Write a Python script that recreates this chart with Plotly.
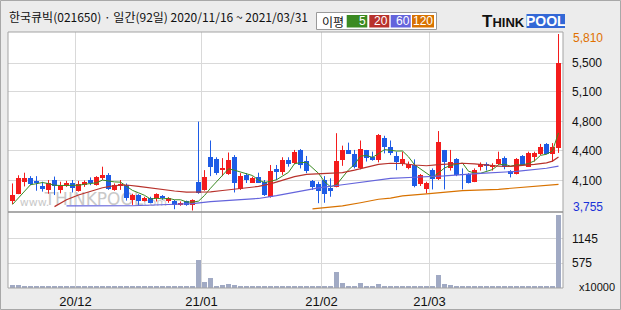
import plotly.graph_objects as go

# ---------------- data ----------------
open_ = [3860, 3950, 4090, 4130, 4100, 4040, 3995, 4110, 3995, 4045,
         4080, 3985, 4050, 4110, 4050, 4130, 4170, 3995, 4035, 4050,
         3880, 3930, 3870, 3905, 3895, 3925, 3860, 3865, 3820, 3860,
         3820, 4090, 3995, 4380, 4350, 4235, 4180, 4380, 4000, 4170,
         4080, 4140, 4090, 3915, 4240, 4205, 4345, 4305, 4460, 4330,
         4100, 4065, 4110, 4020, 4030, 4345, 4460, 4415, 4245, 4460,
         4380, 4345, 4595, 4500, 4390, 4295, 4245, 4285, 4065, 4000,
         4225, 4120, 4460, 4245, 4350, 4180, 4180, 4090, 4265, 4295,
         4265, 4295, 4365, 4210, 4180, 4390, 4265, 4380, 4410, 4530,
         4415, 4480]
high = [4070, 4165, 4195, 4155, 4155, 4090, 4110, 4150, 4090, 4100,
        4110, 4100, 4105, 4140, 4155, 4265, 4190, 4070, 4110, 4070,
        3950, 3945, 3915, 3915, 3955, 3935, 3910, 3880, 3860, 3870,
        3885, 4790, 4225, 4570, 4375, 4365, 4430, 4400, 4190, 4190,
        4150, 4195, 4110, 4285, 4285, 4375, 4375, 4460, 4470, 4390,
        4110, 4090, 4155, 4130, 4655, 4510, 4545, 4460, 4570, 4460,
        4440, 4645, 4625, 4570, 4440, 4440, 4325, 4350, 4180, 4090,
        4245, 4680, 4460, 4460, 4365, 4245, 4190, 4245, 4315, 4315,
        4305, 4440, 4385, 4225, 4365, 4400, 4440, 4440, 4530, 4540,
        4540, 5810]
low = [3830, 3945, 4035, 4050, 3985, 3975, 3950, 3935, 3955, 4030,
       3965, 3975, 4030, 4050, 4045, 4110, 3995, 3985, 3995, 3870,
       3820, 3820, 3860, 3840, 3860, 3880, 3845, 3770, 3810, 3810,
       3755, 3950, 3985, 4155, 4170, 4155, 4170, 3965, 3995, 4075,
       4075, 4075, 3925, 3905, 4110, 4170, 4265, 4295, 4245, 4190,
       3995, 3840, 3845, 3915, 4025, 4275, 4420, 4245, 4235, 4325,
       4335, 4315, 4420, 4400, 4225, 4275, 4235, 4025, 4040, 3955,
       4000, 4110, 4000, 4220, 4155, 4000, 4070, 4085, 4220, 4220,
       4220, 4285, 4235, 4140, 4175, 4275, 4265, 4325, 4400, 4410,
       4325, 4425]
close = [3935, 4135, 4130, 4065, 4070, 4005, 4070, 4035, 4050, 4080,
         4015, 4065, 4090, 4080, 4140, 4170, 4000, 4050, 4065, 3895,
         3935, 3860, 3905, 3845, 3945, 3895, 3895, 3820, 3845, 3820,
         3880, 3955, 4150, 4265, 4195, 4245, 4345, 4070, 4155, 4110,
         4130, 4080, 3935, 4215, 4205, 4345, 4295, 4435, 4285, 4210,
         4025, 3985, 3950, 3985, 4330, 4460, 4415, 4265, 4470, 4370,
         4345, 4635, 4500, 4430, 4325, 4350, 4295, 4040, 4170, 4080,
         4120, 4555, 4325, 4315, 4170, 4170, 4080, 4225, 4295, 4275,
         4285, 4350, 4265, 4180, 4350, 4285, 4430, 4420, 4500, 4415,
         4490, 5470]
volume = [60, 60, 30, 30, 30, 30, 30, 30, 30, 30,
          30, 30, 30, 30, 30, 30, 30, 30, 30, 55,
          30, 30, 30, 30, 30, 30, 30, 30, 30, 30,
          30, 660, 150, 243, 55, 81, 104, 81, 55, 30,
          30, 30, 30, 55, 55, 55, 30, 55, 55, 30,
          55, 55, 30, 30, 382, 127, 55, 55, 127, 55,
          55, 104, 55, 55, 55, 30, 30, 55, 30, 55,
          30, 290, 104, 81, 55, 30, 30, 30, 30, 30,
          30, 30, 55, 30, 30, 55, 30, 55, 55, 55,
          55, 1700]  # x10000

ma5_head = [3825, 3905, 3985, 4055]
ma20_idx = [7, 9, 11, 13, 15, 17, 19, 21, 23, 25, 27, 29, 31, 33, 35, 37, 39, 41, 43, 45,
            47, 49, 51, 53, 55, 57, 59, 61, 63, 65, 67, 69, 71, 73, 75, 77, 79, 81, 83, 85,
            87, 89, 90, 91]
ma20_val = [3800, 3880, 3935, 3980, 4020, 4045, 4052, 4035, 4015, 3998, 3982, 3968, 3966, 3972,
            3988, 4005, 4018, 4035, 4065, 4108, 4150, 4175, 4182, 4181, 4196, 4225, 4260, 4292,
            4305, 4302, 4285, 4276, 4288, 4299, 4305, 4298, 4285, 4272, 4268, 4276, 4292, 4310,
            4330, 4378]
ma60_idx = [9, 15, 20, 26, 30, 33, 38, 41, 44, 47, 51, 55, 59, 63, 67, 72, 78, 84, 89, 91]
ma60_val = [3808, 3808, 3810, 3825, 3835, 3858, 3878, 3895, 3928, 3970, 4018, 4055, 4093, 4128,
            4142, 4157, 4188, 4210, 4247, 4272]
ma120_idx = [50, 52, 55, 58, 61, 63, 65, 69, 75, 81, 85, 89, 91]
ma120_val = [3773, 3789, 3808, 3845, 3886, 3900, 3925, 3948, 3987, 4002, 4025, 4041, 4060]

month_pos = [10.5, 31.5, 51.5, 69.5]
month_labels = ["20/12", "21/01", "21/02", "21/03"]
price_grid = [5472, 5135, 4786, 4448, 4099]
price_grid_labels = ["5,500", "5,100", "4,800", "4,400", "4,100"]
vol_grid = [575, 1145]
vol_grid_labels = ["575", "1145"]

title_text = "한국큐빅(021650) · 일간(92일) 2020/11/16 ~ 2021/03/31"
ma_names = ["5", "20", "60", "120"]

# ---------------- styles ----------------
W, H = 621, 310
L, R, T, B = 8, 58, 32, 22
PW, PH = W - L - R, H - T - B
RED, BLUE = "#f41c1c", "#1e5ce6"
MA_COL = ["#3b8a22", "#b8322c", "#6464dc", "#d87200"]
GRID = "#d9d9d9"
BG = "#ececec"
NUM_FONT = "Liberation Sans"


def px(x):
    return (x - L) / PW


def py(y):
    return (H - B - y) / PH


n = len(close)
idx = list(range(n))

ma5 = list(ma5_head) + [sum(close[i - 4:i + 1]) / 5 for i in range(4, n)]

fig = go.Figure()

# candle bodies
up = [i for i in idx if close[i] >= open_[i]]
dn = [i for i in idx if close[i] < open_[i]]
for sel, col in ((up, RED), (dn, BLUE)):
    fig.add_bar(x=sel,
                base=[min(open_[i], close[i]) for i in sel],
                y=[max(abs(close[i] - open_[i]), 9) for i in sel],
                width=5 / 6, marker=dict(color=col, line=dict(width=0)),
                xaxis="x", yaxis="y", showlegend=False, hoverinfo="skip")

# volume bars
fig.add_bar(x=idx, y=volume, width=5 / 6, marker=dict(color="#a1aac4", line=dict(width=0)),
            xaxis="x2", yaxis="y2", showlegend=False, hoverinfo="skip")

# wicks
for sel, col in ((up, RED), (dn, BLUE)):
    xs, ys = [], []
    for i in sel:
        xs += [i, i, None]
        ys += [low[i], high[i], None]
    fig.add_scatter(x=xs, y=ys, mode="lines", line=dict(color=col, width=1),
                    xaxis="x", yaxis="y", showlegend=False, hoverinfo="skip")

# moving averages
fig.add_scatter(x=idx, y=ma5, mode="lines", line=dict(color=MA_COL[0], width=1),
                showlegend=False, hoverinfo="skip")
for xi, yv, col in ((ma20_idx, ma20_val, MA_COL[1]), (ma60_idx, ma60_val, MA_COL[2]),
                    (ma120_idx, ma120_val, MA_COL[3])):
    fig.add_scatter(x=xi, y=yv, mode="lines", line=dict(color=col, width=1.2),
                    showlegend=False, hoverinfo="skip")

xr = [-0.75, n - 0.25]
split = py(212)
fig.update_layout(
    width=W, height=H, margin=dict(l=L, r=R, t=T, b=B, autoexpand=False),
    paper_bgcolor=BG, plot_bgcolor="white", bargap=0, barmode="overlay",
    xaxis=dict(domain=[0, 1], range=xr, anchor="y", tickvals=month_pos, showticklabels=False,
               showgrid=True, gridcolor=GRID, gridwidth=1, zeroline=False, ticks=""),
    xaxis2=dict(domain=[0, 1], range=xr, anchor="y2", matches="x", tickvals=month_pos,
                ticktext=month_labels, showgrid=True, gridcolor=GRID, zeroline=False, ticks="",
                automargin=False,
                tickfont=dict(family=NUM_FONT, size=13, color="#111"), ticklabelstandoff=4),
    yaxis=dict(domain=[split, 1], range=[3737.5, 5833.3], side="right", tickvals=price_grid,
               ticktext=price_grid_labels, showgrid=True, gridcolor=GRID, zeroline=False,
               ticks="", ticklabelstandoff=8, automargin=False,
               tickfont=dict(family=NUM_FONT, size=12, color="#111")),
    yaxis2=dict(domain=[0, split], range=[0, 1760], side="right", tickvals=vol_grid,
                ticktext=vol_grid_labels, showgrid=True, gridcolor=GRID, zeroline=False,
                ticks="", ticklabelstandoff=8, automargin=False,
                tickfont=dict(family=NUM_FONT, size=12, color="#111")),
)

shapes = []
ann = []
# watermark (below traces)
for txt, x0, x1, size in (("www.", 22, 47, 11), ("THINKPOOL", 47, 141, 17), (".com", 141, 166, 11)):
    shapes.append(dict(type="rect", xref="paper", yref="paper", x0=px(x0), x1=px(x1),
                       y0=py(211), y1=py(194), line=dict(width=0), layer="between",
                       label=dict(text=txt, textposition="bottom center",
                                  font=dict(family="DejaVu Sans", size=size, color="#c9c9c9"))))
# plot frame and panel separator
shapes.append(dict(type="rect", xref="paper", yref="paper", x0=0, x1=1, y0=0, y1=1,
                   line=dict(color="#a3a3a3", width=1)))
shapes.append(dict(type="line", xref="paper", yref="paper", x0=0, x1=1, y0=split, y1=split,
                   line=dict(color="#8f8f8f", width=1.5)))
# outer image border
shapes.append(dict(type="rect", xref="paper", yref="paper", x0=px(0.5), x1=px(620.5),
                   y0=py(309.5), y1=py(0.5), line=dict(color="#a8a8a8", width=1)))

# header title
ann.append(dict(text=title_text, xref="paper", yref="paper", x=px(7), y=py(16.5),
                xanchor="left", yanchor="middle", showarrow=False,
                font=dict(family="Noto Sans CJK KR", size=12, color="#111")))

# MA legend box
shapes.append(dict(type="rect", xref="paper", yref="paper", x0=px(316.5), x1=px(436.5),
                   y0=py(29.5), y1=py(12.5), fillcolor="white", line=dict(color="#9a9a9a", width=1)))
ann.append(dict(text="이평", xref="paper", yref="paper", x=px(333), y=py(21),
                xanchor="center", yanchor="middle", showarrow=False,
                font=dict(family="Noto Sans CJK KR", size=12, color="#111")))
boxes = [(346.7, 367.3), (369.3, 389.3), (390.7, 410.7), (412, 434)]
for (b0, b1), col, name in zip(boxes, MA_COL, ma_names):
    shapes.append(dict(type="rect", xref="paper", yref="paper", x0=px(b0), x1=px(b1),
                       y0=py(27.5), y1=py(15), fillcolor=col, line=dict(width=0)))
    ann.append(dict(text=name, xref="paper", yref="paper", x=px(b1), y=py(21.3),
                    xanchor="right", yanchor="middle", showarrow=False, borderpad=0,
                    font=dict(family=NUM_FONT, size=12, color="white")))

# THINKPOOL logo
ann.append(dict(text="<b>T<span style='font-size:13px'>HINK</span></b>", xref="paper", yref="paper",
                x=px(480), y=py(21.5), xanchor="left", yanchor="middle", showarrow=False,
                font=dict(family="Liberation Sans", size=17, color="#111")))
shapes.append(dict(type="rect", xref="paper", yref="paper", x0=px(526.5), x1=px(565),
                   y0=py(28), y1=py(14), fillcolor="#3368d6", line=dict(width=0)))
ann.append(dict(text="<b>POOL</b>", xref="paper", yref="paper", x=px(545.7), y=py(21.3),
                xanchor="center", yanchor="middle", showarrow=False,
                font=dict(family="Liberation Sans", size=14, color="white")))

# max / min price labels
ann.append(dict(text=f"{max(high):,}", xref="paper", yref="y", x=1, xshift=8, y=max(high),
                yshift=-4, xanchor="left", yanchor="middle", showarrow=False,
                font=dict(family=NUM_FONT, size=12, color="#e07000")))
ann.append(dict(text=f"{min(low):,}", xref="paper", yref="y", x=1, xshift=8, y=min(low),
                yshift=3.5, xanchor="left", yanchor="middle", showarrow=False,
                font=dict(family=NUM_FONT, size=12, color="#1a32d8")))
ann.append(dict(text="x10000", xref="paper", yref="paper", x=px(577), y=py(286.5),
                xanchor="left", yanchor="middle", showarrow=False,
                font=dict(family=NUM_FONT, size=11, color="#111")))

fig.update_layout(shapes=shapes, annotations=ann)
fig.write_html("out.html")
